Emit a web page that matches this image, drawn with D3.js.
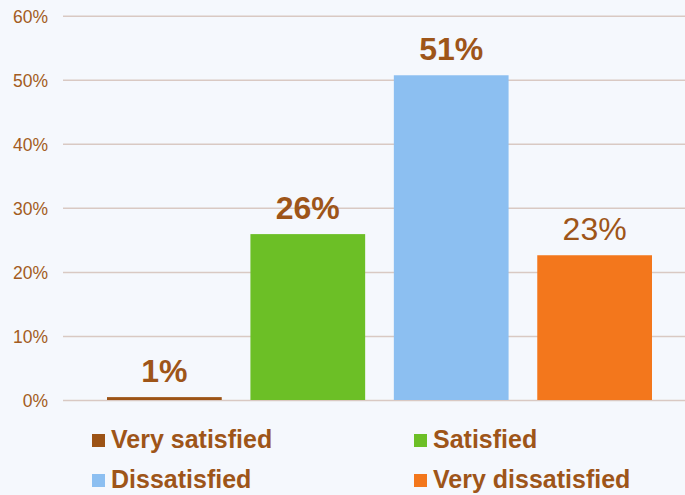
<!DOCTYPE html>
<meta charset="utf-8">
<style>
    body { margin: 0; background: #f5f8fd; }
    svg { display: block; font-family: Arial, "Liberation Sans", sans-serif; }
    .axis text { fill: #a35c22; font-size: 17.5px; }
    .axis path { display: none; }
    .axis line { stroke: #d9c9c3; stroke-width: 1.5; }
</style>
<svg width="685" height="495"></svg>
<script src="https://cdn.jsdelivr.net/npm/d3@7"></script>
<script>
    // categories and values
    var categories = ["Very satisfied", "Satisfied", "Dissatisfied", "Very dissatisfied"];
    var values = [0.45, 25.9, 50.7, 22.6];
    var labels = ["1%", "26%", "51%", "23%"];
    var boldLabel = [true, true, true, false];
    var colors = ["#9c5316", "#6cbf26", "#8cbff1", "#f3771c"];
    var yTicks = [0, 10, 20, 30, 40, 50, 60];

    var svg = d3.select("svg"),
        width = +svg.attr("width"),
        brown = "#9e5519";

    var x = d3.scaleBand().domain(categories).range([107, 652])
            .paddingInner(0.2).paddingOuter(0),
        y = d3.scaleLinear().domain([0, 60]).range([400, 15.7]);

    // gridlines + y labels
    svg.append("g")
        .attr("class", "axis")
        .attr("transform", "translate(63,0)")
        .call(d3.axisLeft(y).tickValues(yTicks)
            .tickSize(-(width - 63))
            .tickPadding(15)
            .tickFormat(function (d) { return d + "%"; }))
        .call(function (g) { g.selectAll("text").attr("dy", "0.36em"); });

    // bars
    svg.selectAll("rect.bar")
        .data(categories)
        .enter().append("rect")
        .attr("class", "bar")
        .attr("x", function (d) { return x(d); })
        .attr("width", x.bandwidth())
        .attr("y", function (d, i) { return y(values[i]); })
        .attr("height", function (d, i) { return y(0) - y(values[i]); })
        .attr("fill", function (d, i) { return colors[i]; });

    // value labels
    svg.selectAll("text.val")
        .data(categories)
        .enter().append("text")
        .attr("class", "val")
        .attr("x", function (d) { return x(d) + x.bandwidth() / 2; })
        .attr("y", function (d, i) { return y(values[i]) - 15; })
        .attr("text-anchor", "middle")
        .attr("font-size", 32)
        .attr("font-weight", function (d, i) { return boldLabel[i] ? "bold" : "normal"; })
        .attr("fill", brown)
        .text(function (d, i) { return labels[i]; });

    // legend, two columns
    var legendX = [92, 414], legendY = [448, 488];
    var item = svg.selectAll("g.legend")
        .data(categories)
        .enter().append("g")
        .attr("class", "legend")
        .attr("transform", function (d, i) {
            return "translate(" + [legendX[i % 2], legendY[Math.floor(i / 2)]] + ")";
        });
    item.append("rect")
        .attr("y", -14)
        .attr("width", 13)
        .attr("height", 13)
        .attr("fill", function (d, i) { return colors[i]; });
    item.append("text")
        .attr("x", 19)
        .attr("font-size", 25)
        .attr("font-weight", "bold")
        .attr("fill", brown)
        .text(function (d) { return d; });
</script>
